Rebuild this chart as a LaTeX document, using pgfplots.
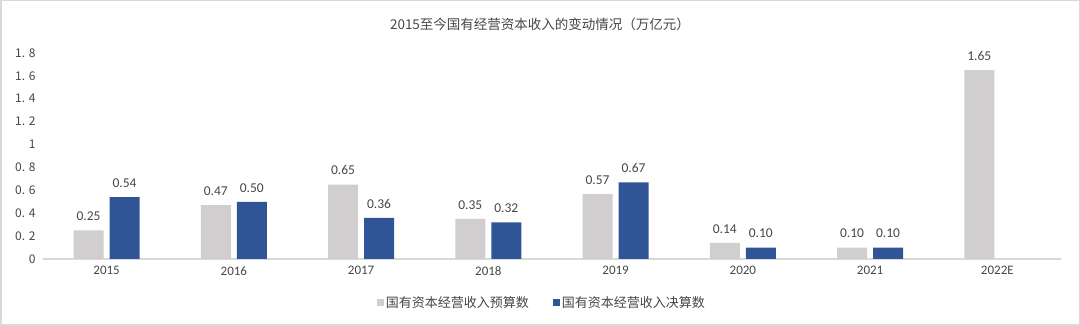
\documentclass[border=0pt]{standalone}
\usepackage{fontspec}
\setmainfont{Carlito}
\newfontfamily\cjk{Noto Sans CJK SC}
\usepackage{pgfplots}
\pgfplotsset{compat=1.18}
\definecolor{cgray}{RGB}{208,206,206}
\definecolor{cblue}{RGB}{47,85,151}
\definecolor{ctext}{RGB}{70,70,70}
\definecolor{cline}{RGB}{217,217,217}
\begin{document}
\begin{tikzpicture}[x=1pt,y=1pt]
\path[use as bounding box] (0,0) rectangle (1080,326);
\draw[cline, line width=1.5pt] (0.75,0.75) rectangle (1079.25,325.25);
\node[font=\cjk\fontsize{13.5}{16}\selectfont, text=ctext] at (540,302) {2015至今国有经营资本收入的变动情况（万亿元）};
\begin{axis}[
  at={(43pt,67pt)}, anchor=south west,
  scale only axis, width=1018pt, height=206pt,
  xmin=-0.5, xmax=7.5, ymin=0, ymax=1.8,
  axis line style={draw=none},
  major tick length=0pt,
  xtick={0,...,7},
  xticklabels={2015,2016,2017,2018,2019,2020,2021,2022E},
  ytick={0,0.2,0.4,0.6,0.8,1,1.2,1.4,1.6,1.8},
  yticklabels={0,0. 2,0. 4,0. 6,0. 8,1,1. 2,1. 4,1. 6,1. 8},
  x tick label style={font=\fontsize{13}{15}\selectfont, text=ctext, yshift=-4pt},
  y tick label style={font=\cjk\fontsize{12}{14}\selectfont, text=ctext, xshift=-4pt},
  /pgf/number format/assume math mode=true,
  legend columns=2,
  legend style={at={(axis description cs:0.49,-0.2136)}, anchor=center, draw=none, fill=none,
    font=\cjk\fontsize{13}{15}\selectfont, text=ctext,
    /tikz/every even column/.append style={column sep=22pt}},
  legend image code/.code={\fill[#1] (0pt,-3.5pt) rectangle (7pt,3.5pt);},
  clip=false,
]
\draw[cline, line width=1.5pt] (rel axis cs:0,0) -- (rel axis cs:1,0);
\addplot[ybar, bar width=30pt, bar shift=-18pt, fill=cgray, draw=none,
  nodes near coords,
  nodes near coords style={font=\fontsize{13.5}{15}\selectfont, text=ctext, anchor=south, yshift=6pt, xshift=-18pt,
    /pgf/number format/fixed, /pgf/number format/precision=2, /pgf/number format/fixed zerofill}]
  coordinates {(0,0.25) (1,0.47) (2,0.65) (3,0.35) (4,0.57) (5,0.14) (6,0.10) (7,1.65)};
\addlegendentry{国有资本经营收入预算数}
\addplot[ybar, bar width=30pt, bar shift=18pt, fill=cblue, draw=none,
  nodes near coords,
  nodes near coords style={font=\fontsize{13.5}{15}\selectfont, text=ctext, anchor=south, yshift=6pt, xshift=18pt,
    /pgf/number format/fixed, /pgf/number format/precision=2, /pgf/number format/fixed zerofill}]
  coordinates {(0,0.54) (1,0.50) (2,0.36) (3,0.32) (4,0.67) (5,0.10) (6,0.10)};
\addlegendentry{国有资本经营收入决算数}
\end{axis}
\end{tikzpicture}
\end{document}
